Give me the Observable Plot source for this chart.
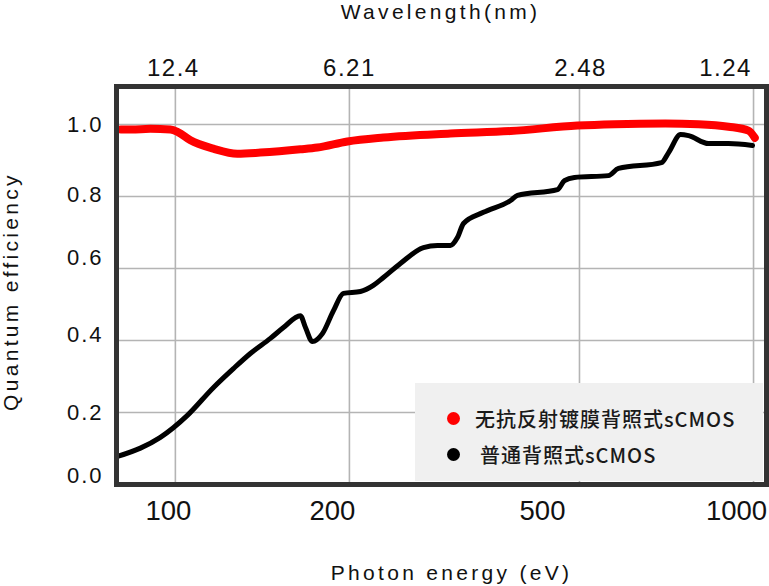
<!DOCTYPE html>
<html>
<head>
<meta charset="utf-8">
<script src="https://cdn.jsdelivr.net/npm/d3@7"></script>
<script src="https://cdn.jsdelivr.net/npm/@observablehq/plot@0.6"></script>
<style>
  html, body { margin: 0; padding: 0; background: #fff; }
  #wrap { position: relative; width: 769px; height: 586px; overflow: hidden; }
  #wrap svg g[font-size="24"] { letter-spacing: 1.5px; }
  #wrap svg g[font-size="22"] { letter-spacing: 2px; }
  #wrap svg g[font-size="21"] { letter-spacing: 3.3px; }
  .legend-box { position: absolute; left: 415px; top: 383px; width: 348px; height: 98px; background: #f0f0f0; }
  .dot { position: absolute; width: 13px; height: 13px; border-radius: 50%; }
  .ltext { position: absolute; font-family: "Noto Sans CJK SC", "Noto Sans", sans-serif; font-size: 20px; line-height: 20px; font-weight: 500; letter-spacing: 1px; color: #1a1a1a; white-space: nowrap; }
</style>
</head>
<body>
<div id="wrap"></div>
<script>
// ---- data ----
const energyTicks = [100, 200, 500, 1000];
const wavelengthLabels = ["12.4", "6.21", "2.48", "1.24"];
const qeTicks = [0, 0.2, 0.4, 0.6, 0.8, 1.0];
const seriesNames = ["无抗反射镀膜背照式sCMOS", "普通背照式sCMOS"];
const seriesColors = ["#ff0000", "#000000"];

// anti-reflection-free BSI sCMOS (red)
const arEnergy = [80.5, 84, 90.5, 98, 101, 106.2, 116.3, 128, 140.3, 164.5, 176, 198.4, 229, 299, 380, 496, 575, 704, 803, 905, 980, 1005];
const arQE =     [0.986, 0.986, 0.988, 0.986, 0.979, 0.956, 0.933, 0.919, 0.922, 0.931, 0.936, 0.953, 0.964, 0.975, 0.982, 0.997, 1.001, 1.003, 1.001, 0.994, 0.983, 0.963];

// ordinary BSI sCMOS (black)
const bsiEnergy = [79.4, 87, 94.2, 104.9, 116.3, 126, 134.8, 146, 153.8, 164.5, 167.9, 172.6, 179.6, 187.7, 195.3, 209, 220, 229, 245, 268.6, 284, 299, 307.5, 315, 341, 380, 390.6, 458, 471, 490, 561, 584, 693, 713, 748, 772, 836, 905, 996];
const bsiQE =     [0.078, 0.101, 0.131, 0.192, 0.269, 0.322, 0.364, 0.406, 0.436, 0.469, 0.436, 0.397, 0.419, 0.483, 0.531, 0.536, 0.553, 0.575, 0.614, 0.658, 0.664, 0.664, 0.686, 0.725, 0.756, 0.789, 0.803, 0.819, 0.844, 0.853, 0.858, 0.878, 0.894, 0.922, 0.972, 0.969, 0.947, 0.947, 0.942];

// ---- chart ----
const red = arEnergy.map((e, i) => ({e, q: arQE[i]}));
const blk = bsiEnergy.map((e, i) => ({e, q: bsiQE[i]}));
const FONT = '"Liberation Sans", Arial, Helvetica, sans-serif';

const bottomDx = [-7, -17, -37, -17];
const topDx = [-2, 0, 1, -28];
const leftDy = {0: -9, 0.2: 0.5, 0.4: -5.5, 0.6: -10.5, 0.8: -1.5, 1: 0.5};

const chart = Plot.plot({
  width: 769,
  height: 586,
  marginLeft: 116,
  marginRight: 3,
  marginTop: 86,
  marginBottom: 102,
  x: {type: "log", domain: [79.1, 1053]},
  y: {domain: [0, 1.1056]},
  style: {fontFamily: FONT, color: "#111", background: "#fff", overflow: "visible"},
  marks: [
    Plot.gridX(energyTicks, {stroke: "#b4b4b4", strokeOpacity: 1, strokeWidth: 1.6}),
    Plot.gridY(qeTicks.filter(d => d > 0), {stroke: "#b4b4b4", strokeOpacity: 1, strokeWidth: 1.6}),
    Plot.line(red, {x: "e", y: "q", stroke: seriesColors[0], strokeWidth: 8, curve: "monotone-x", strokeLinecap: "round", strokeLinejoin: "round"}),
    Plot.line(blk, {x: "e", y: "q", stroke: seriesColors[1], strokeWidth: 5, curve: "monotone-x", strokeLinejoin: "round"}),
    Plot.frame({stroke: "#333", strokeWidth: 5}),
    ...energyTicks.map((t, i) => Plot.axisX([t], {anchor: "bottom", tickSize: 0, tickPadding: 16, fontSize: 27.5, dx: bottomDx[i], label: null, tickFormat: d => String(d)})),
    ...energyTicks.map((t, i) => Plot.axisX([t], {anchor: "top", tickSize: 0, tickPadding: 10.5, fontSize: 24, dx: topDx[i], label: null, tickFormat: () => wavelengthLabels[i]})),
    ...qeTicks.map(t => Plot.axisY([t], {anchor: "left", tickSize: 0, tickPadding: 13, fontSize: 22, dy: leftDy[t], label: null, tickFormat: d => d.toFixed(1)})),
    Plot.text(["Wavelength(nm)"], {frameAnchor: "top", lineAnchor: "middle", textAnchor: "middle", dy: -74.7, dx: -1, fontSize: 21, fill: "#111"}),
    Plot.text(["Photon energy (eV)"], {frameAnchor: "bottom", lineAnchor: "middle", textAnchor: "middle", dy: 88.3, dx: 10, fontSize: 21, fill: "#111"}),
    Plot.text(["Quantum efficiency"], {frameAnchor: "left", lineAnchor: "middle", textAnchor: "middle", dx: -105.5, dy: 6, rotate: -90, fontSize: 21, fill: "#111"})
  ]
});

const wrap = document.getElementById("wrap");
wrap.appendChild(chart);

// legend (overlay inside the plot area)
const box = document.createElement("div");
box.className = "legend-box";
wrap.appendChild(box);
const legendRows = [
  {dotLeft: 447, dotTop: 412, textLeft: 475, textTop: 409},
  {dotLeft: 447, dotTop: 448, textLeft: 480, textTop: 445}
];
seriesNames.forEach((name, i) => {
  const d = document.createElement("div");
  d.className = "dot";
  d.style.left = legendRows[i].dotLeft + "px";
  d.style.top = legendRows[i].dotTop + "px";
  d.style.background = seriesColors[i];
  wrap.appendChild(d);
  const t = document.createElement("div");
  t.className = "ltext";
  t.style.left = legendRows[i].textLeft + "px";
  t.style.top = legendRows[i].textTop + "px";
  t.textContent = name;
  wrap.appendChild(t);
});
</script>
</body>
</html>
